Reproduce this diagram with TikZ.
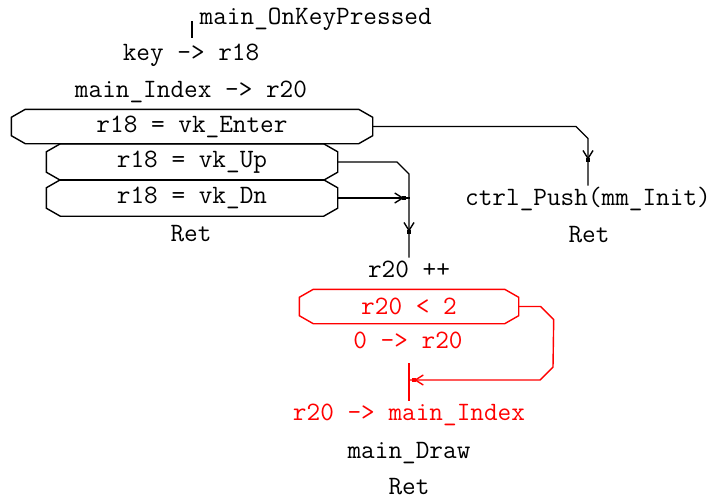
\documentclass[tikz,border=0pt]{standalone}
\usepackage{fontspec}
\usetikzlibrary{arrows.meta,decorations.markings}

\begin{document}
\begin{tikzpicture}[x=1pt,y=-1pt,line width=1.4pt,line cap=rect,>={Straight Barb[length=8pt,width=10pt]}]
			% Typewriter text for this sheet
			\tikzstyle{every node}=[font=\ttfamily\fontsize{26.5}{30}\selectfont,inner xsep=0pt,inner ysep=4pt,text height=16pt,text depth=5pt]
			\tikzstyle{cond}=[inner sep=0pt,text height=,text depth=,minimum height=33pt]
			% arrow with a dot, placed on a line
			\tikzstyle{tipat}=[postaction={decorate,decoration={markings,mark=at position #1 with {\arrow{>}\fill (-2pt,-2pt) rectangle (2pt,2pt);}}}]

			\useasboundingbox (0,0) rectangle (712,499);

			% entry of the handler
			\node[anchor=west] (title) at (199,19) {main\_OnKeyPressed};
			\draw ([shift={(-7pt,-3pt)}]title.west) -- ++(0,15);
			\node (key) at (191,55) {key -> r18};
			\node (idx) at (191,92) {main\_Index -> r20};

			% the three tests on the key
			\node[cond,minimum width=360pt] (enter) at (192,126.5) {r18 = vk\_Enter};
			\node[cond,minimum width=290pt,minimum height=35pt] (up) at (192,162) {r18 = vk\_Up};
			\node[cond,minimum width=290pt,minimum height=35pt] (dn) at (192,198) {r18 = vk\_Dn};
			\node (ret1) at (191,236) {Ret};

			% the Enter branch
			\node (push) at (588,200) {ctrl\_Push(mm\_Init)};
			\node (ret2) at (589,237) {Ret};

			% the Up / Dn branch
			\node (inc) at (409,272) {r20 ++};
			\node[cond,minimum width=218pt,text=red] (cmp) at (409,306.5) {r20 < 2};
			\node[text=red] (zero) at (408,343) {0 -> r20};
			\coordinate (jtop) at (409,364);
			\node[text=red] (store) at (409,415) {r20 -> main\_Index};
			\node (draw) at (409,453) {main\_Draw};
			\node (ret3) at (409,489) {Ret};

			% outline the tests with cut corners
			% b: node name, c: colour
			\foreach \b / \c in {enter/black, up/black, dn/black, cmp/red}
			{
				\draw[\c] ([xshift=14pt]\b.north west) -- ([xshift=-14pt]\b.north east)
					-- ([yshift=-8pt]\b.north east) -- ([yshift=8pt]\b.south east)
					-- ([xshift=-14pt]\b.south east) -- ([xshift=14pt]\b.south west)
					-- ([yshift=8pt]\b.south west) -- ([yshift=-8pt]\b.north west) -- cycle;
			}

			% connectors
			\draw[tipat=-25pt] (enter.east) -- ([xshift=-12pt]push.north |- enter.east) -- ++(12,12) -- (push.north);
			\draw[tipat=-25pt] (up.east) -- ([xshift=-12pt]inc.north |- up.east) -- ++(12,12) -- (inc.north);
			\coordinate (merge) at (inc.north |- dn.east);
			\draw[tipat=-5pt] (dn.east) -- (merge);
			% the red wrap around
			\coordinate (wrap) at (409,380);
			\draw[red,tipat=-5pt] (cmp.east) -- ++(22,0) -- ++(13,13) -- ([shift={(144pt,13pt)}]wrap) -- ++(-13,13) -- (wrap);
			\draw[red] (jtop) -- (store.north);
		\end{tikzpicture}
\end{document}
